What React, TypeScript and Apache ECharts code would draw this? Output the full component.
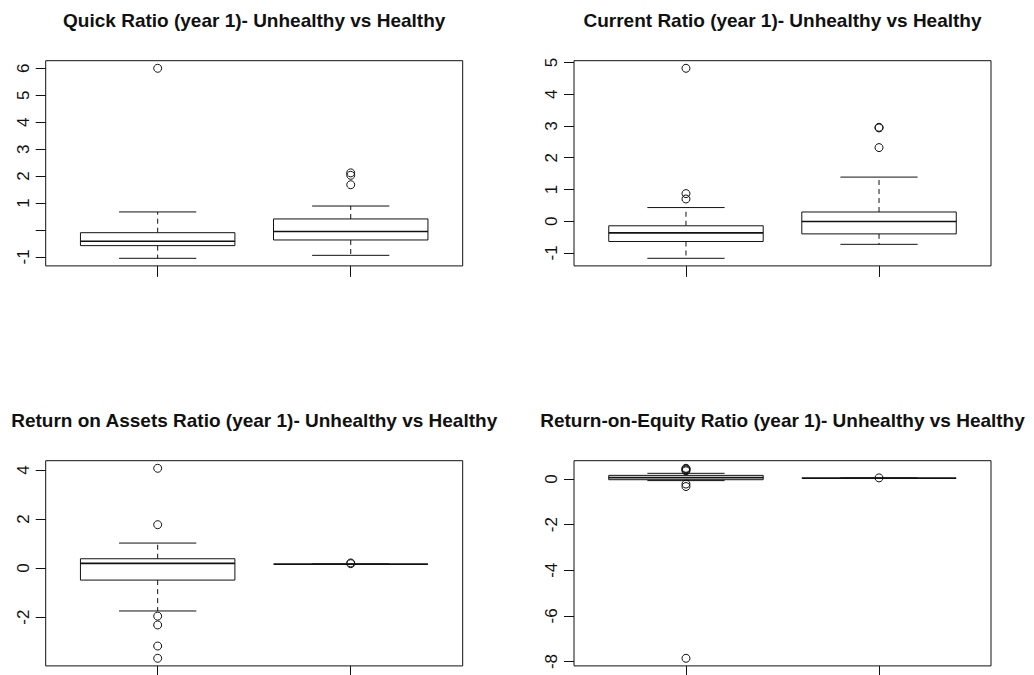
import React, { useEffect, useRef } from "react";
import * as echarts from "echarts";

// Category positions (1 = Unhealthy, 2 = Healthy)
const groups = ["Unhealthy", "Healthy"];

const titles = [
  "Quick Ratio (year 1)- Unhealthy vs Healthy",
  "Current Ratio (year 1)- Unhealthy vs Healthy",
  "Return on Assets Ratio (year 1)- Unhealthy vs Healthy",
  "Return-on-Equity Ratio (year 1)- Unhealthy vs Healthy",
];

// Box stats per group: [lower whisker, Q1, median, Q3, upper whisker]
const quickBoxes = [
  [-1.05, -0.58, -0.42, -0.1, 0.67],
  [-0.94, -0.37, -0.055, 0.41, 0.89],
];
const quickOutliers = [[6.0], [2.12, 2.03, 1.68]];

const currentBoxes = [
  [-1.17, -0.64, -0.37, -0.145, 0.43],
  [-0.73, -0.4, -0.01, 0.29, 1.39],
];
const currentOutliers = [[4.82, 0.87, 0.7], [2.96, 2.94, 2.32]];

const roaBoxes = [
  [-1.75, -0.49, 0.19, 0.38, 1.02],
  [0.16, 0.16, 0.16, 0.16, 0.16],
];
const roaOutliers = [[4.07, 1.77, -1.96, -2.32, -3.18, -3.68], [0.21, 0.18]];

const roeBoxes = [
  [-0.07, -0.03, 0.06, 0.16, 0.25],
  [0.04, 0.04, 0.04, 0.04, 0.04],
];
const roeOutliers = [[0.47, 0.44, 0.4, 0.36, -0.22, -0.33, -7.86], [0.05]];

// Tick values and labelled ticks per panel
const quickTicks = [-1, 0, 1, 2, 3, 4, 5, 6];
const quickLabels = [-1, 1, 2, 3, 4, 5, 6];
const currentTicks = [-1, 0, 1, 2, 3, 4, 5];
const currentLabels = [-1, 0, 1, 2, 3, 4, 5];
const roaTicks = [-4, -2, 0, 2, 4];
const roaLabels = [-4, -2, 0, 2, 4];
const roeTicks = [-8, -6, -4, -2, 0];
const roeLabels = [-8, -6, -4, -2, 0];

const panels = [
  { boxes: quickBoxes, outliers: quickOutliers, ticks: quickTicks, labels: quickLabels },
  { boxes: currentBoxes, outliers: currentOutliers, ticks: currentTicks, labels: currentLabels },
  { boxes: roaBoxes, outliers: roaOutliers, ticks: roaTicks, labels: roaLabels },
  { boxes: roeBoxes, outliers: roeOutliers, ticks: roeTicks, labels: roeLabels },
];

const gridPos = [
  { left: 45.7, top: 60.7 },
  { left: 574, top: 60.7 },
  { left: 45.7, top: 460.7 },
  { left: 574, top: 460.7 },
];
const GW = 417;
const GH = 205.2;

const FONT = '"Liberation Sans", Arial, Helvetica, sans-serif';
const INK = "#111";

function buildOption() {
  const grid: any[] = [];
  const xAxis: any[] = [];
  const yAxis: any[] = [];
  const series: any[] = [];
  const title: any[] = [];

  panels.forEach((p, i) => {
    const g = gridPos[i];
    grid.push({
      left: g.left,
      top: g.top,
      width: GW,
      height: GH,
      show: true,
      borderColor: INK,
      borderWidth: 1,
      backgroundColor: "transparent",
      containLabel: false,
      outerBoundsMode: "none",
    });
    // R-style 4% range extension
    const all: number[] = [];
    p.boxes.forEach((b) => all.push(...b));
    p.outliers.forEach((o) => all.push(...o));
    const lo = Math.min(...all);
    const hi = Math.max(...all);
    const ext = (hi - lo) * 0.04;

    xAxis.push({
      type: "value",
      gridIndex: i,
      position: "bottom",
      min: 0.42,
      max: 2.58,
      splitLine: { show: false },
      axisLine: { show: false, onZero: false },
      axisLabel: { show: false },
      axisTick: {
        show: true,
        customValues: [1, 2],
        length: 11,
        inside: false,
        lineStyle: { color: INK, width: 1 },
      },
    });
    yAxis.push({
      type: "value",
      gridIndex: i,
      position: "left",
      min: lo - ext,
      max: hi + ext,
      splitLine: { show: false },
      axisLine: { show: false, onZero: false },
      axisTick: {
        show: true,
        customValues: p.ticks,
        length: 10,
        inside: false,
        lineStyle: { color: INK, width: 1 },
      },
      axisLabel: {
        show: true,
        customValues: p.labels,
        rotate: 90,
        margin: 14,
        color: INK,
        fontSize: 17,
        fontFamily: FONT,
      },
    });

    const boxData = p.boxes.map((b, k) => [k + 1, ...b]);
    series.push({
      type: "custom",
      name: groups.join(" vs ") + " " + i,
      xAxisIndex: i,
      yAxisIndex: i,
      data: boxData,
      encode: { x: 0, y: [1, 2, 3, 4, 5] },
      renderItem: (params: any, api: any) => {
        const x = api.value(0);
        const c = (xx: number, yy: number) => api.coord([xx, yy]);
        const [cx, yWlo] = c(x, api.value(1));
        const [, yQ1] = c(x, api.value(2));
        const [, yMed] = c(x, api.value(3));
        const [, yQ3] = c(x, api.value(4));
        const [, yWhi] = c(x, api.value(5));
        const [xl] = c(x - 0.4, 0);
        const [xr] = c(x + 0.4, 0);
        const [cl] = c(x - 0.2, 0);
        const [cr] = c(x + 0.2, 0);
        const solid = { stroke: INK, lineWidth: 1, fill: "none" };
        const dashed = { stroke: INK, lineWidth: 1, lineDash: [5, 4], fill: "none" };
        const children: any[] = [];
        if (Math.abs(yQ3 - yWhi) > 0.5) {
          children.push({ type: "line", shape: { x1: cx, y1: yQ3, x2: cx, y2: yWhi }, style: dashed });
        }
        if (Math.abs(yWlo - yQ1) > 0.5) {
          children.push({ type: "line", shape: { x1: cx, y1: yQ1, x2: cx, y2: yWlo }, style: dashed });
        }
        children.push(
          { type: "line", shape: { x1: cl, y1: yWhi, x2: cr, y2: yWhi }, style: solid },
          { type: "line", shape: { x1: cl, y1: yWlo, x2: cr, y2: yWlo }, style: solid }
        );
        if (Math.abs(yQ1 - yQ3) > 0.5) {
          children.push({
            type: "rect",
            shape: { x: xl, y: yQ3, width: xr - xl, height: yQ1 - yQ3 },
            style: { stroke: INK, lineWidth: 1, fill: "#fff" },
          });
        }
        children.push({
          type: "line",
          shape: { x1: xl, y1: yMed, x2: xr, y2: yMed },
          style: { stroke: INK, lineWidth: 1.6, fill: "none" },
        });
        return { type: "group", children };
      },
      z: 2,
    });

    const outData: number[][] = [];
    p.outliers.forEach((o, k) => o.forEach((v) => outData.push([k + 1, v])));
    series.push({
      type: "scatter",
      name: "outliers " + i,
      xAxisIndex: i,
      yAxisIndex: i,
      data: outData,
      symbol: "circle",
      symbolSize: 8,
      itemStyle: { color: "rgba(0,0,0,0)", borderColor: INK, borderWidth: 1, opacity: 1 },
      z: 3,
    });

    title.push({
      text: titles[i],
      left: g.left + GW / 2,
      top: g.top - 50,
      padding: 0,
      textAlign: "center",
      textStyle: { fontFamily: FONT, fontWeight: "bold", fontSize: 19, color: INK },
    });
  });

  return {
    animation: false,
    backgroundColor: "#fff",
    title,
    grid,
    xAxis,
    yAxis,
    series,
  };
}

export default function App() {
  const ref = useRef<HTMLDivElement>(null);
  useEffect(() => {
    if (!ref.current) return;
    const chart = echarts.init(ref.current, null, { renderer: "svg" });
    chart.setOption(buildOption());
    return () => chart.dispose();
  }, []);
  return (
    <div
      ref={ref}
      style={{ position: "absolute", left: 0, top: 0, width: 1034, height: 675 }}
    />
  );
}
